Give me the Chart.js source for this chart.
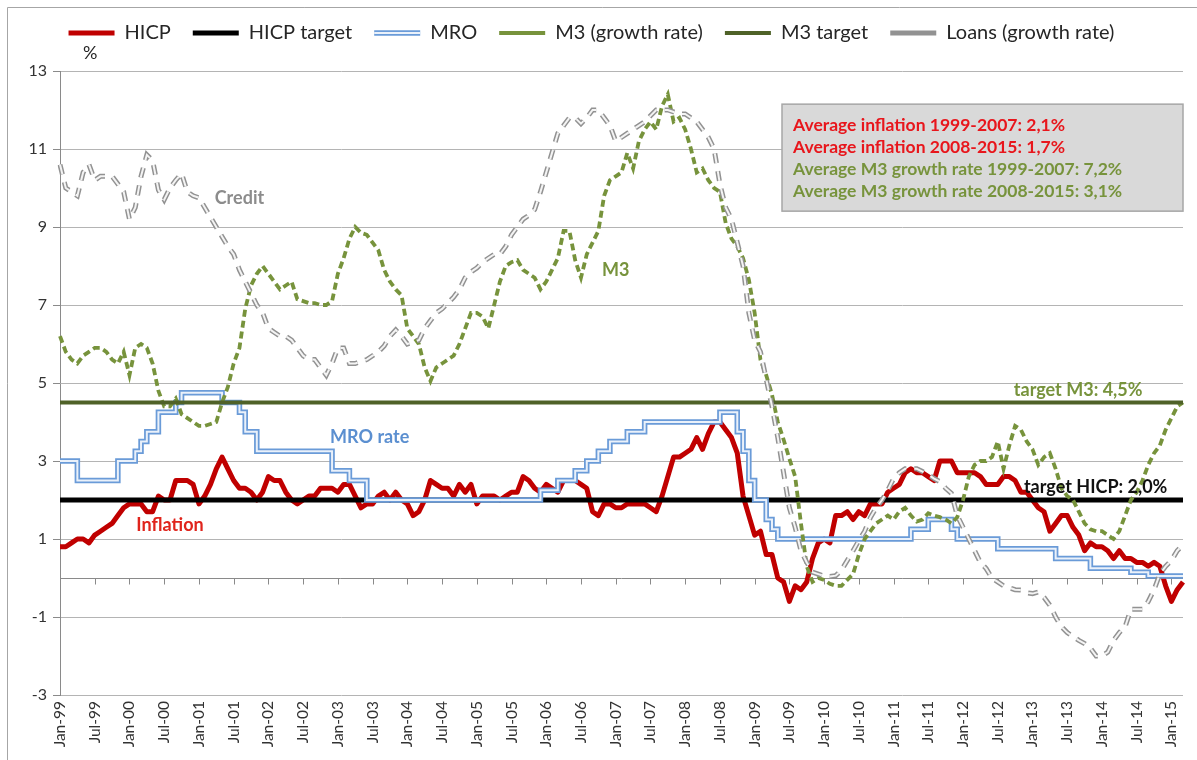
<!DOCTYPE html>
<html>
<head>
<meta charset="utf-8">
<script src="https://cdn.jsdelivr.net/npm/chart.js@4.4.1/dist/chart.umd.min.js"></script>
<style>
  html, body { margin: 0; padding: 0; background: #fff; }
  #wrap { width: 1197px; height: 760px; position: relative; }
</style>
</head>
<body>
<div id="wrap"><canvas id="myChart"></canvas></div>
<script>
// months Jan-99 .. Mar-15
const monthNames = ['Jan', 'Feb', 'Mar', 'Apr', 'May', 'Jun', 'Jul', 'Aug', 'Sep', 'Oct', 'Nov', 'Dec'];
const monthCount = 195;
const labels = [];
for (let i = 0; i < monthCount; i++) {
  labels.push(monthNames[i % 12] + '-' + String((99 + Math.floor(i / 12)) % 100).padStart(2, '0'));
}

const hicp = [
  0.8, 0.8, 0.9, 1.0, 1.0, 0.9, 1.1, 1.2, 1.3, 1.4, 1.6, 1.8,
  1.9, 1.9, 1.9, 1.7, 1.7, 2.1, 2.0, 2.0, 2.5, 2.5, 2.5, 2.4,
  1.9, 2.1, 2.4, 2.8, 3.1, 2.8, 2.5, 2.3, 2.3, 2.2, 2.0, 2.2,
  2.6, 2.5, 2.5, 2.2, 2.0, 1.9, 2.0, 2.1, 2.1, 2.3, 2.3, 2.3,
  2.2, 2.4, 2.4, 2.1, 1.8, 1.9, 1.9, 2.1, 2.2, 2.0, 2.2, 2.0,
  1.9, 1.6, 1.7, 2.0, 2.5, 2.4, 2.3, 2.3, 2.1, 2.4, 2.2, 2.4,
  1.9, 2.1, 2.1, 2.1, 2.0, 2.1, 2.2, 2.2, 2.6, 2.5, 2.3, 2.2,
  2.4, 2.3, 2.2, 2.5, 2.5, 2.5, 2.4, 2.3, 1.7, 1.6, 1.9, 1.9,
  1.8, 1.8, 1.9, 1.9, 1.9, 1.9, 1.8, 1.7, 2.1, 2.6, 3.1, 3.1,
  3.2, 3.3, 3.6, 3.3, 3.7, 4.0, 4.0, 3.8, 3.6, 3.2, 2.1, 1.6,
  1.1, 1.2, 0.6, 0.6, 0.0, -0.1, -0.6, -0.2, -0.3, -0.1, 0.5, 0.9,
  1.0, 0.9, 1.6, 1.6, 1.7, 1.5, 1.7, 1.6, 1.9, 1.9, 1.9, 2.2,
  2.3, 2.4, 2.7, 2.8, 2.7, 2.7, 2.6, 2.5, 3.0, 3.0, 3.0, 2.7,
  2.7, 2.7, 2.7, 2.6, 2.4, 2.4, 2.4, 2.6, 2.6, 2.5, 2.2, 2.2,
  2.0, 1.8, 1.7, 1.2, 1.4, 1.6, 1.6, 1.3, 1.1, 0.7, 0.9, 0.8,
  0.8, 0.7, 0.5, 0.7, 0.5, 0.5, 0.4, 0.4, 0.3, 0.4, 0.3, -0.2,
  -0.6, -0.3, -0.1
];

const mro = [
  3.0, 3.0, 3.0, 2.5, 2.5, 2.5, 2.5, 2.5, 2.5, 2.5, 3.0, 3.0,
  3.0, 3.25, 3.5, 3.75, 3.75, 4.25, 4.25, 4.25, 4.5, 4.75, 4.75, 4.75,
  4.75, 4.75, 4.75, 4.75, 4.5, 4.5, 4.5, 4.25, 3.75, 3.75, 3.25, 3.25,
  3.25, 3.25, 3.25, 3.25, 3.25, 3.25, 3.25, 3.25, 3.25, 3.25, 3.25, 2.75,
  2.75, 2.75, 2.5, 2.5, 2.5, 2.0, 2.0, 2.0, 2.0, 2.0, 2.0, 2.0,
  2.0, 2.0, 2.0, 2.0, 2.0, 2.0, 2.0, 2.0, 2.0, 2.0, 2.0, 2.0,
  2.0, 2.0, 2.0, 2.0, 2.0, 2.0, 2.0, 2.0, 2.0, 2.0, 2.0, 2.25,
  2.25, 2.25, 2.5, 2.5, 2.5, 2.75, 2.75, 3.0, 3.0, 3.25, 3.25, 3.5,
  3.5, 3.5, 3.75, 3.75, 3.75, 4.0, 4.0, 4.0, 4.0, 4.0, 4.0, 4.0,
  4.0, 4.0, 4.0, 4.0, 4.0, 4.0, 4.25, 4.25, 4.25, 3.75, 3.25, 2.5,
  2.0, 2.0, 1.5, 1.25, 1.0, 1.0, 1.0, 1.0, 1.0, 1.0, 1.0, 1.0,
  1.0, 1.0, 1.0, 1.0, 1.0, 1.0, 1.0, 1.0, 1.0, 1.0, 1.0, 1.0,
  1.0, 1.0, 1.0, 1.25, 1.25, 1.25, 1.5, 1.5, 1.5, 1.5, 1.25, 1.0,
  1.0, 1.0, 1.0, 1.0, 1.0, 1.0, 0.75, 0.75, 0.75, 0.75, 0.75, 0.75,
  0.75, 0.75, 0.75, 0.75, 0.5, 0.5, 0.5, 0.5, 0.5, 0.5, 0.25, 0.25,
  0.25, 0.25, 0.25, 0.25, 0.25, 0.15, 0.15, 0.15, 0.05, 0.05, 0.05, 0.05,
  0.05, 0.05, 0.05
];

const m3 = [
  6.2, 5.8, 5.6, 5.5, 5.7, 5.8, 5.9, 5.9, 5.8, 5.6, 5.5, 5.8,
  5.2, 5.9, 6.0, 5.9, 5.5, 4.8, 4.4, 4.4, 4.6, 4.2, 4.1, 4.0,
  3.9, 3.9, 3.95, 4.0, 4.5, 4.9, 5.5, 5.9, 6.9, 7.5, 7.8, 8.0,
  7.8, 7.6, 7.4, 7.5, 7.6, 7.15, 7.1, 7.05, 7.05, 7.0, 7.0, 7.1,
  7.8, 8.2, 8.7, 9.0, 8.85, 8.8, 8.6, 8.4, 7.9, 7.6, 7.4, 7.25,
  6.4, 6.2, 6.0, 5.4, 5.05, 5.4, 5.5, 5.6, 5.7, 6.0, 6.4, 6.8,
  6.8, 6.7, 6.4, 7.0, 7.6, 8.0, 8.1, 8.15, 7.9, 7.8, 7.7, 7.4,
  7.6, 7.9, 8.2, 8.9, 8.9, 8.15, 7.7, 8.3, 8.6, 8.9, 9.8, 10.2,
  10.3, 10.4, 10.9, 10.5, 11.2, 11.5, 11.7, 11.5, 12.1, 12.4, 11.7, 11.8,
  11.5, 11.0, 10.4, 10.5, 10.2, 10.0, 9.9, 9.1, 8.7, 8.5, 8.2, 7.65,
  6.8, 5.6, 5.2, 4.7, 4.0, 3.55, 3.06, 2.6, 1.4, 0.3, -0.1, 0.0,
  -0.05, -0.15, -0.2, -0.2, -0.05, 0.1, 0.6, 1.0, 1.2, 1.4, 1.5, 1.6,
  1.5, 1.7, 1.8, 1.6, 1.45, 1.5, 1.66, 1.6, 1.56, 1.5, 1.4, 1.56,
  2.0, 2.6, 2.9, 3.0, 3.0, 3.1, 3.5, 2.8, 3.4, 3.9, 3.8, 3.5,
  3.3, 2.9, 3.1, 3.2, 2.8, 2.3, 2.1, 2.0, 1.7, 1.4, 1.25, 1.2,
  1.2, 1.1, 1.0, 1.2, 1.6, 2.0, 2.2, 2.5, 2.9, 3.2, 3.4, 3.8,
  4.1, 4.4, 4.5
];

const loans = [
  10.6, 10.0, 9.9, 9.8, 10.4, 10.6, 10.2, 10.3, 10.3, 10.3, 10.1, 9.9,
  9.2, 9.5, 10.3, 10.85, 10.7, 9.95, 9.7, 10.0, 10.2, 10.37, 9.9, 9.8,
  9.75, 9.5, 9.25, 9.0, 8.75, 8.5, 8.3, 7.9, 7.6, 7.3, 7.0, 6.8,
  6.4, 6.3, 6.2, 6.2, 6.1, 5.9, 5.7, 5.6, 5.6, 5.4, 5.2, 5.5,
  5.9, 5.9, 5.5, 5.5, 5.55, 5.6, 5.7, 5.8, 5.95, 6.2, 6.36, 6.2,
  6.0, 6.05, 6.1, 6.4, 6.6, 6.8, 6.9, 7.05, 7.2, 7.4, 7.7, 7.85,
  7.95, 8.1, 8.2, 8.3, 8.3, 8.5, 8.8, 9.0, 9.2, 9.3, 9.45, 9.9,
  10.4, 10.9, 11.4, 11.6, 11.8, 11.8, 11.65, 11.8, 12.0, 12.0, 11.8, 11.6,
  11.2, 11.3, 11.4, 11.5, 11.6, 11.7, 11.85, 12.0, 12.0, 12.0, 11.95, 11.9,
  11.9, 11.8, 11.7, 11.5, 11.3, 11.0, 10.1, 9.5, 9.2, 8.6, 8.0, 6.8,
  6.1, 5.8, 5.1, 4.4, 3.6, 2.7, 1.8, 1.3, 0.7, 0.4, 0.15, 0.1,
  0.05, 0.04, 0.06, 0.2, 0.45, 0.7, 0.96, 1.2, 1.55, 1.8, 2.0, 2.25,
  2.55, 2.7, 2.8, 2.8, 2.8, 2.73, 2.65, 2.55, 2.47, 2.3, 2.17, 1.6,
  1.3, 1.0, 0.7, 0.4, 0.24, 0.0, -0.1, -0.2, -0.25, -0.3, -0.31, -0.38,
  -0.4, -0.36, -0.5, -0.7, -1.0, -1.25, -1.4, -1.5, -1.6, -1.68, -1.8, -2.0,
  -2.0, -1.9, -1.6, -1.4, -1.25, -0.8, -0.8, -0.8, -0.6, -0.3, 0.1, 0.3,
  0.45, 0.7, 0.85
];

const hicpTarget = 2.0;
const m3Target = 4.5;

const boxLines = [
  {text: 'Average inflation 1999-2007: 2,1%', color: '#e8161c'},
  {text: 'Average inflation 2008-2015: 1,7%', color: '#e8161c'},
  {text: 'Average M3 growth rate 1999-2007: 7,2%', color: '#77933c'},
  {text: 'Average M3 growth rate 2008-2015: 3,1%', color: '#77933c'}
];

// labels placed in data coordinates (month index, value)
const seriesNotes = [
  {text: 'Credit', at: 31, value: 9.75, color: '#8c8c8c', align: 'center'},
  {text: 'M3', at: 96, value: 7.9, color: '#77933c', align: 'center'},
  {text: 'MRO rate', at: 53.5, value: 3.6, color: '#5b8fd0', align: 'center'},
  {text: 'Inflation', at: 19, value: 1.35, color: '#e0241c', align: 'center'},
  {text: 'target M3: 4,5%', at: 187, value: 4.82, color: '#77933c', align: 'right'},
  {text: 'target HICP: 2,0%', at: 191.3, value: 2.32, color: '#111111', align: 'right'}
];

Chart.defaults.font.family = 'Lato';

const ctx = document.getElementById('myChart');

const frame = {
  id: 'frame',
  beforeDraw(chart) {
    const c = chart.ctx;
    c.save();
    c.fillStyle = '#fff';
    c.fillRect(0, 0, chart.width, chart.height);
    c.strokeStyle = '#a6a6a6';
    c.lineWidth = 1;
    c.beginPath();
    c.moveTo(7.5, chart.height);
    c.lineTo(7.5, 7.5);
    c.lineTo(chart.width, 7.5);
    c.stroke();
    c.restore();
  }
};

const legendSpace = {
  id: 'legendSpace',
  beforeInit(chart) {
    const fit = chart.legend.fit;
    chart.legend.fit = function () {
      fit.call(this);
      this.height = 70;
    };
  }
};

// axis line through zero with tick marks every 6 months
const zeroAxis = {
  id: 'zeroAxis',
  beforeDatasetsDraw(chart) {
    const c = chart.ctx;
    const x = chart.scales.x, y = chart.scales.y;
    const y0 = Math.round(y.getPixelForValue(0)) + 0.5;
    c.save();
    c.strokeStyle = '#8a8a8a';
    c.lineWidth = 1;
    c.beginPath();
    c.moveTo(chart.chartArea.left, y0);
    c.lineTo(chart.chartArea.right, y0);
    for (let i = 0; i < monthCount; i += 6) {
      const px = Math.round(x.getPixelForValue(i)) + 0.5;
      c.moveTo(px, y0);
      c.lineTo(px, y0 + 6);
    }
    c.stroke();
    c.restore();
  }
};

const notes = {
  id: 'notes',
  afterDraw(chart) {
    const c = chart.ctx;
    const x = chart.scales.x, y = chart.scales.y;
    const area = chart.chartArea;
    c.save();
    c.textBaseline = 'middle';

    c.font = 'bold 18px Lato';
    seriesNotes.forEach(n => {
      c.fillStyle = n.color;
      c.textAlign = n.align;
      c.fillText(n.text, x.getPixelForValue(n.at), y.getPixelForValue(n.value));
    });

    // averages box
    const bx = area.right - 401, by = y.getPixelForValue(12.15);
    c.fillStyle = '#d9d9d9';
    c.fillRect(bx, by, 401, 107);
    c.strokeStyle = '#a6a6a6';
    c.lineWidth = 1.5;
    c.strokeRect(bx, by, 401, 107);
    c.font = 'bold 17.5px Lato';
    c.textAlign = 'left';
    boxLines.forEach((l, i) => {
      c.fillStyle = l.color;
      c.fillText(l.text, bx + 11, by + 21 + i * 22);
    });

    c.font = '18px Lato';
    c.fillStyle = '#262626';
    c.textAlign = 'left';
    c.fillText('%', 83, 53);

    // double line look for the MRO legend sample
    const boxes = chart.legend.legendHitBoxes;
    const items = chart.legend.legendItems;
    items.forEach((it, i) => {
      if (it.text === 'MRO' && boxes[i]) {
        const b = boxes[i];
        const cy = b.top + b.height / 2;
        c.strokeStyle = '#eaf1fa';
        c.lineWidth = 2;
        c.beginPath();
        c.moveTo(b.left, cy);
        c.lineTo(b.left + 46, cy);
        c.stroke();
      }
    });
    c.restore();
  }
};

const line = (label, data, color, width, order, extra) => Object.assign({
  label: label,
  data: data,
  borderColor: color,
  backgroundColor: color,
  borderWidth: width,
  pointRadius: 0,
  pointHoverRadius: 0,
  tension: 0,
  fill: false,
  borderJoinStyle: 'round',
  order: order
}, extra || {});

new Chart(ctx, {
  type: 'line',
  data: {
    labels: labels,
    datasets: [
      line('HICP', hicp, '#c00000', 5, 8),
      line('HICP target', labels.map(() => hicpTarget), '#000000', 5, 7),
      line('MRO', mro, '#6a9bd8', 5.5, 6, {stepped: true, borderJoinStyle: 'miter'}),
      line('', mro, '#eaf1fa', 2, 5, {stepped: true, borderJoinStyle: 'miter', inner: true}),
      line('M3 (growth rate)', m3, '#77933c', 3.8, 4, {borderDash: [7, 4], borderJoinStyle: 'miter'}),
      line('M3 target', labels.map(() => m3Target), '#4f6228', 4, 3),
      line('Loans (growth rate)', loans, '#929292', 5, 2, {borderDash: [10, 8], borderJoinStyle: 'miter'}),
      line('', loans, '#f4f4f4', 2, 1, {borderDash: [10, 8], borderJoinStyle: 'miter', inner: true})
    ]
  },
  options: {
    responsive: true,
    maintainAspectRatio: false,
    animation: false,
    layout: {padding: {top: 1, left: 0, right: 14, bottom: 0}},
    plugins: {
      tooltip: {enabled: false},
      legend: {
        position: 'top',
        labels: {
          usePointStyle: true,
          pointStyle: 'line',
          pointStyleWidth: 46,
          padding: 22,
          color: '#262626',
          font: {size: 20},
          filter: (item, data) => !data.datasets[item.datasetIndex].inner,
          sort: (a, b) => a.datasetIndex - b.datasetIndex
        }
      }
    },
    scales: {
      x: {
        grid: {display: false, drawTicks: false},
        border: {display: false},
        ticks: {
          autoSkip: false,
          maxRotation: 90,
          minRotation: 90,
          padding: 6,
          color: '#333333',
          font: {size: 15.5},
          callback: (v, i) => (i % 6 === 0 ? labels[i] : null)
        },
        afterFit: (s) => { s.height = 65; }
      },
      y: {
        min: -3,
        max: 13,
        ticks: {stepSize: 2, color: '#333333', font: {size: 16}, padding: 6},
        grid: {color: '#b4b4b4', tickColor: '#8a8a8a', tickLength: 7},
        border: {color: '#8a8a8a'},
        afterFit: (s) => { s.width = 60; }
      }
    }
  },
  plugins: [frame, legendSpace, zeroAxis, notes]
});
</script>
</body>
</html>
